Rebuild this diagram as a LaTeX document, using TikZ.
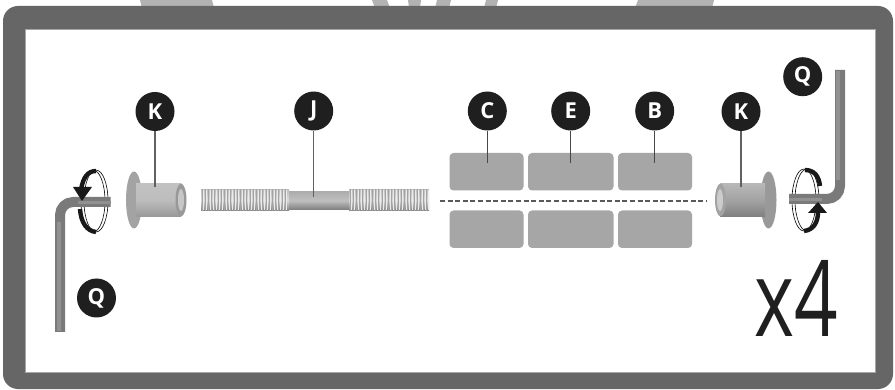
\documentclass[tikz,border=0pt]{standalone}
\usepackage{fontspec}
\setmainfont{Open Sans}
\tikzset{
  callout/.style={circle,fill=black!88,text=white,minimum size=39pt,inner sep=0pt,font=\fontsize{22}{22}\selectfont\bfseries},
  leader/.style={draw=black!62,line width=1.3pt},
  leaderdark/.style={draw=black!72,line width=1.3pt},
  pad/.style={fill=black!35,rounded corners=4pt},
  threadline/.style={draw=black!36,line width=.9pt},
  threadlite/.style={draw=white!92!black,line width=.7pt},
  wrench/.style={draw=black!52,line width=10pt,line join=round,rounded corners=13pt},
  wrenchlite/.style={draw=black!43,line width=4pt},
  ringline/.style={draw=black,line width=.6pt,fill=none},
  turn/.style={draw=black!90,line width=4.4pt},
  turnhead/.style={fill=black!90,draw=none},
  backfrag/.style={fill=black!30,draw=none},
}
\begin{document}
\begin{tikzpicture}[x=1pt,y=-1pt]
\useasboundingbox (0,0) rectangle (895,390);
\fill[white] (0,0) rectangle (895,390);
% fragments above the frame
\fill[backfrag] (140,0) -- (212,0) -- (214,8) -- (142,8) -- cycle;
\fill[backfrag] (372,0) -- (387,0) -- (390,8) -- (375,8) -- cycle;
\fill[backfrag] (408,0) -- (421,0) -- (420,8) -- (409,8) -- cycle;
\fill[backfrag] (437,0) -- (451,0) -- (449,8) -- (435,8) -- cycle;
\fill[backfrag] (486,0) -- (498,0) -- (496,8) -- (484,8) -- cycle;
\fill[backfrag] (638,0) -- (714,0) -- (712,8) -- (635,8) -- cycle;
% frame
\fill[black!60,rounded corners=15pt] (3,6) rectangle (893,389);
\fill[white,draw=black!35,line width=.6pt] (25,29) rectangle (875,372);
% pads
\path[pad] (449.5,153) rectangle (523.5,190.5);
\path[pad] (528,153) rectangle (613.5,190.5);
\path[pad] (618,153) rectangle (692,190.5);
\path[pad] (449.5,210.5) rectangle (523.5,248);
\path[pad] (528,210.5) rectangle (613.5,248);
\path[pad] (618,210.5) rectangle (692,248);
\draw[black!65,line width=1.3pt,dash pattern=on 5pt off 2.6pt] (440,201) -- (707,201);
% threaded rod
\shade[top color=black!32,bottom color=black!50,middle color=black!25] (289,191.5) rectangle (350,209.5);
\shade[top color=black!25,bottom color=black!48,middle color=black!15] (201,190) rectangle (289,210.5);
\shade[top color=black!25,bottom color=black!48,middle color=black!15] (349,190) rectangle (429,210.5);
\foreach \x in {202,205.2,...,288}{
  \draw[threadline] (\x,189) -- (\x,211.5);
  \draw[threadlite] (\x+1.6,190) -- (\x+1.6,210);
}
\foreach \x in {350,353.2,...,429}{
  \draw[threadline] (\x,189) -- (\x,211.5);
  \draw[threadlite] (\x+1.6,190) -- (\x+1.6,210);
}
% left bushing
\fill[black!36] (134,200) ellipse [x radius=8pt,y radius=28.5pt];
\shade[top color=black!24,bottom color=black!40,middle color=black!26] (136,183.5) rectangle (181,216.5);
\fill[black!40] (181,200) ellipse [x radius=5.5pt,y radius=16.5pt];
\fill[black!22] (181,200) ellipse [x radius=3pt,y radius=11pt];
% right bushing
\fill[black!40] (768.5,200) ellipse [x radius=8pt,y radius=28.5pt];
\shade[top color=black!28,bottom color=black!50,middle color=black!36] (720,183.5) rectangle (765,216.5);
\fill[black!36] (720.5,200) ellipse [x radius=5.5pt,y radius=16.5pt];
\fill[black!20] (720,200) ellipse [x radius=3pt,y radius=11pt];
% left wrench
\draw[ringline] (93,201) ellipse [x radius=12pt,y radius=31pt];
\draw[ringline] (96,201) ellipse [x radius=12pt,y radius=31pt];
\draw[wrench] (60,332) -- (60,202) -- (110.5,202);
\draw[wrenchlite] (59,331) -- (59,222);
\draw[wrenchlite,line width=3pt] (78,202.5) -- (110.5,202.5);
% left turning arrow
\draw[turn] (81,190) .. controls (83,177) and (88,171) .. (96,171);
\fill[turnhead] (73,187) -- (92,187) -- (82,201) -- cycle;
\draw[turn] (80,209) .. controls (81,223) and (87,231) .. (96,232);
% right wrench
\draw[ringline] (807,200) ellipse [x radius=12pt,y radius=31pt];
\draw[ringline] (804,200) ellipse [x radius=12pt,y radius=31pt];
\draw[wrench] (840,70) -- (840,199) -- (789,199);
\draw[wrenchlite] (838,71) -- (838,180);
\draw[wrenchlite,line width=3pt] (789,199.5) -- (822,199.5);
% right turning arrow
\draw[turn] (805,170) .. controls (814,170) and (819,176) .. (820,186);
\fill[turnhead] (808,213) -- (827,213) -- (818,202) -- cycle;
\draw[turn] (818,212) .. controls (818,223) and (813,230) .. (804,231);
% callouts
\node[callout] (kl) at (155,111.5) {K};
\node[callout] (ql) at (96.5,298) {Q};
\node[callout] (j) at (313.7,111) {J};
\node[callout] (c) at (487.3,111) {C};
\node[callout] (e) at (570.7,111) {E};
\node[callout] (b) at (654.7,111) {B};
\node[callout] (kr) at (741,111.5) {K};
\node[callout] (qr) at (802.7,76.7) {Q};
\coordinate (klend) at (155,187);
\coordinate (jend) at (313.7,197);
\coordinate (cend) at (487.3,163);
\coordinate (eend) at (570.7,163);
\coordinate (bend) at (654.7,163);
\coordinate (krend) at (741,187);
\draw[leader] (kl) -- (klend);
\draw[leader] (j) -- (jend);
\draw[leaderdark] (c) -- (cend);
\draw[leaderdark] (e) -- (eend);
\draw[leaderdark] (b) -- (bend);
\draw[leader] (kr) -- (krend);
% multiplier
\node[text=black!88,inner sep=0pt,xscale=.72,font=\fontsize{106}{106}\selectfont] (mult) at (796,298) {x4};
\end{tikzpicture}
\end{document}
